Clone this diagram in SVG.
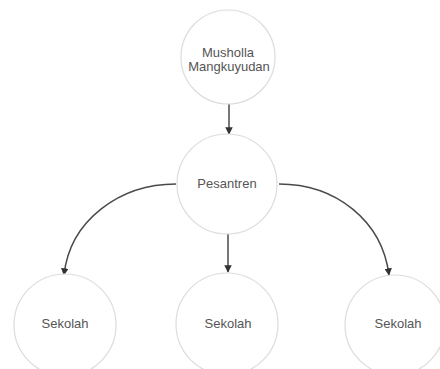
<svg xmlns="http://www.w3.org/2000/svg" width="440" height="369" viewBox="0 0 440 369">
<style>
.node{fill:#fff;stroke:#dcdcdc;stroke-width:1.2}
.lbl{font-family:"Liberation Sans",Arial,sans-serif;font-size:13px;fill:#555;text-anchor:middle}
.edge{fill:none;stroke:#4a4a4a;stroke-width:1.5}
</style>
<defs>
<marker id="arr" viewBox="0 0 10 10" refX="9" refY="5" markerWidth="5" markerHeight="5" orient="auto" markerUnits="strokeWidth">
<path d="M0,0 L10,5 L0,10 z" fill="#333"/>
</marker>
</defs>
<rect width="440" height="369" fill="#fff"/>
<g id="connectors">
<path class="edge" d="M229,104 L229,134" marker-end="url(#arr)"/>
<path class="edge" d="M228,232 L228,272" marker-end="url(#arr)"/>
<path class="edge" d="M176,184 C120,184 70,220 64,275" marker-end="url(#arr)"/>
<path class="edge" d="M279,184 C335,184 382,220 389,275" marker-end="url(#arr)"/>
</g>
<g id="musholla">
<circle class="node" cx="228" cy="57" r="47"/>
<text class="lbl" x="228" y="56.5">Musholla</text>
<text class="lbl" x="229" y="70.5">Mangkuyudan</text>
</g>
<g id="pesantren">
<circle class="node" cx="227" cy="184" r="50"/>
<text class="lbl" x="227" y="187.5">Pesantren</text>
</g>
<g id="sekolah1">
<circle class="node" cx="65" cy="325" r="51"/>
<text class="lbl" x="65" y="327.5">Sekolah</text>
</g>
<g id="sekolah2">
<circle class="node" cx="227" cy="324" r="51"/>
<text class="lbl" x="228" y="327.5">Sekolah</text>
</g>
<g id="sekolah3">
<circle class="node" cx="395" cy="325" r="50"/>
<text class="lbl" x="398" y="327.5">Sekolah</text>
</g>
</svg>
